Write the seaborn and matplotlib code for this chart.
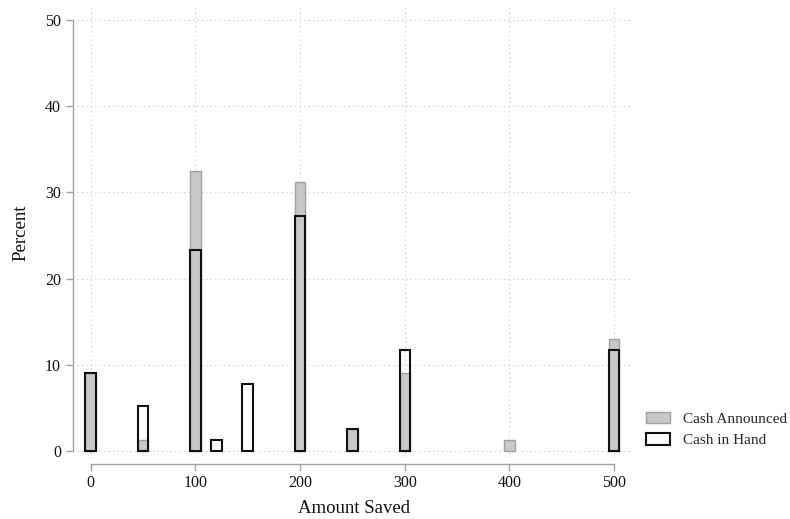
import numpy as np
import pandas as pd
import seaborn as sns
from matplotlib import pyplot as plt
from matplotlib.patches import Patch

# percent of respondents at each amount saved
announced_amt = [0, 50, 100, 200, 250, 300, 400, 500]
announced_pct = [9.09, 1.30, 32.47, 31.17, 2.60, 9.09, 1.30, 12.99]

hand_amt = [0, 50, 100, 120, 150, 200, 250, 300, 500]
hand_pct = [9.09, 5.19, 23.38, 1.30, 7.79, 27.27, 2.60, 11.69, 11.69]

x_ticks = [0, 100, 200, 300, 400, 500]
y_ticks = [0, 10, 20, 30, 40, 50]

df_ann = pd.DataFrame({'amount': announced_amt, 'pct': announced_pct})
df_hand = pd.DataFrame({'amount': hand_amt, 'pct': hand_pct})

sns.set_style('white')
plt.rcParams['font.family'] = ['Liberation Serif', 'DejaVu Serif']

fig = plt.figure(figsize=(7.9, 5.19), dpi=100)
ax = fig.add_axes([77/790, 1 - 458/519, 555/790, 450/519])

edges = np.arange(-5, 506, 10).tolist()  # width-10 bins centred on the amounts
gray = '#c8c8c8'
gray_edge = '#a0a0a0'
dark = '#111111'

sns.histplot(data=df_ann, x='amount', weights='pct', bins=edges, ax=ax,
             color=gray, edgecolor=gray_edge, linewidth=1.0, alpha=1)
sns.histplot(data=df_hand, x='amount', weights='pct', bins=edges, ax=ax,
             fill=False, color=dark, edgecolor=dark, linewidth=1.5)

# drop empty bins so they don't draw lines along zero
for p in list(ax.patches):
    if p.get_height() == 0:
        p.remove()

ax.set_xlim(-13, 517)
ax.set_ylim(-0.8, 51.4)
ax.set_xticks(x_ticks)
ax.set_yticks(y_ticks)
ax.yaxis.set_major_formatter(plt.FuncFormatter(lambda v, _: f'{v:.0f}'))

ax.grid(True, linestyle=(0, (1, 3)), color='#c8c8c8', linewidth=0.8)
ax.set_axisbelow(True)

for s in ['top', 'right']:
    ax.spines[s].set_visible(False)
ax.spines['left'].set_position(('outward', 3))
ax.spines['bottom'].set_position(('outward', 4))
ax.spines['left'].set_bounds(0, 50)
ax.spines['bottom'].set_bounds(0, 500)
for s in ['left', 'bottom']:
    ax.spines[s].set_color('#a0a0a0')
    ax.spines[s].set_linewidth(1.0)

ax.tick_params(axis='both', which='major', direction='out', length=5, width=1.0,
               color='#a0a0a0', labelsize=11.5, labelcolor='#111111', pad=3.5,
               left=True, bottom=True)

ax.set_xlabel('Amount Saved', fontsize=13.5, color='#111111')
ax.set_ylabel('Percent', fontsize=13.5, color='#111111')
ax.xaxis.set_label_coords(0.5, -0.093)
ax.yaxis.set_label_coords(-0.086, 0.5)

handles = [Patch(facecolor=gray, edgecolor=gray_edge, linewidth=1.0, label='Cash Announced'),
           Patch(facecolor='white', edgecolor=dark, linewidth=1.5, label='Cash in Hand')]
fig.legend(handles=handles, loc='center left', bbox_to_anchor=(646/790, 1 - 429.5/519),
           frameon=False, fontsize=11, borderpad=0, borderaxespad=0,
           handlelength=1.6, handleheight=0.75, handletextpad=0.8, labelspacing=0.5)

plt.savefig('out.png', dpi=100)
